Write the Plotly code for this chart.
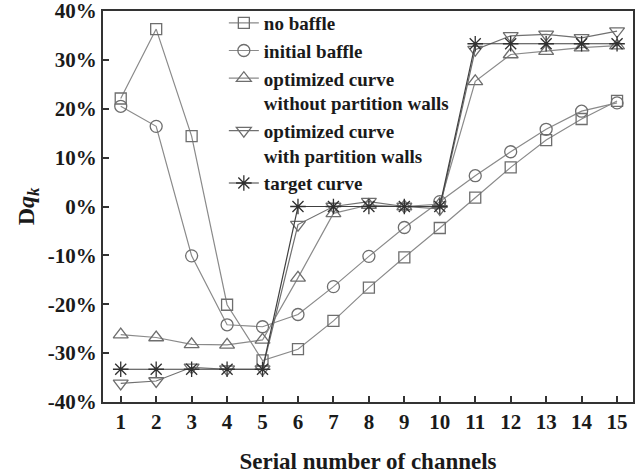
import plotly.graph_objects as go

channels = list(range(1, 16))

no_baffle = [22.1, 36.3, 14.4, -20.1, -31.5, -29.2, -23.4, -16.6, -10.4, -4.4, 1.8, 8.0, 13.6, 17.9, 21.6]
initial_baffle = [20.5, 16.4, -10.1, -24.2, -24.6, -22.1, -16.4, -10.2, -4.3, 1.0, 6.3, 11.2, 15.8, 19.5, 21.2]
opt_without = [-26.2, -26.8, -28.2, -28.3, -27.3, -14.6, -1.4, 0.3, 0.0, 0.5, 25.6, 31.1, 31.8, 32.5, 32.9]
opt_with = [-36.2, -35.7, -32.9, -33.3, -33.3, -3.7, 0.0, 1.0, 0.0, -0.5, 32.1, 34.9, 35.2, 34.5, 35.9]
target = [-33.3, -33.3, -33.3, -33.3, -33.3, 0, 0, 0, 0, 0, 33.3, 33.3, 33.3, 33.3, 33.3]

y_tick_vals = [-40, -30, -20, -10, 0, 10, 20, 30, 40]
y_tick_text = ["-40%", "-30%", "-20%", "-10%", "0%", "10%", "20%", "30%", "40%"]

names = ["no baffle", "initial baffle", "optimized curve<br>without partition walls",
         "optimized curve<br>with partition walls", "target curve"]
series = [no_baffle, initial_baffle, opt_without, opt_with, target]
symbols = ["square-open", "circle-open", "triangle-up-open", "triangle-down-open", "asterisk-open"]
sizes = [11, 12, 13, 13, 13]
line_colors = ["#8a8a8a", "#8a8a8a", "#8a8a8a", "#707070", "#404040"]
marker_colors = ["#6e6e6e", "#6e6e6e", "#6e6e6e", "#6e6e6e", "#303030"]

FONT = "Liberation Serif, Times New Roman, serif"

fig = go.Figure()
for nm, ys, sym, sz, lc, mc in zip(names, series, symbols, sizes, line_colors, marker_colors):
    fig.add_trace(go.Scatter(
        x=channels, y=ys, name=nm, mode="lines+markers",
        line=dict(color=lc, width=1.2),
        marker=dict(symbol=sym, size=sz, color=mc, line=dict(color=mc, width=1.3)),
    ))

axis_common = dict(
    showline=True, linecolor="#333333", linewidth=2, mirror=True,
    ticks="inside", ticklen=6, tickwidth=1.5, tickcolor="#333333",
    showgrid=False, zeroline=False, ticklabeloverflow="allow", automargin=False,
    tickfont=dict(family=FONT, size=21, color="#1a1a1a", weight="bold"),
)

fig.update_layout(
    width=635, height=474,
    margin=dict(l=103, r=2, t=11, b=72),
    paper_bgcolor="white", plot_bgcolor="white",
    showlegend=True,
    legend=dict(
        x=0.228, y=1.018, xanchor="left", yanchor="top",
        font=dict(family=FONT, size=19, color="#1a1a1a", weight="bold"),
        bgcolor="rgba(0,0,0,0)", valign="top", tracegroupgap=0,
    ),
    xaxis=dict(
        range=[0.5, 15.45], tickvals=channels, ticktext=[str(c) for c in channels],
        title=dict(text="Serial number of channels",
                   font=dict(family=FONT, size=23, color="#1a1a1a", weight="bold"), standoff=20),
        **axis_common,
    ),
    yaxis=dict(
        range=[-40, 40], tickvals=y_tick_vals, ticktext=y_tick_text,
        title=dict(text="D<i>q</i><sub><i>k</i></sub>",
                   font=dict(family=FONT, size=24, color="#1a1a1a", weight="bold"), standoff=6),
        **axis_common,
    ),
)

fig.write_html("out.html")
